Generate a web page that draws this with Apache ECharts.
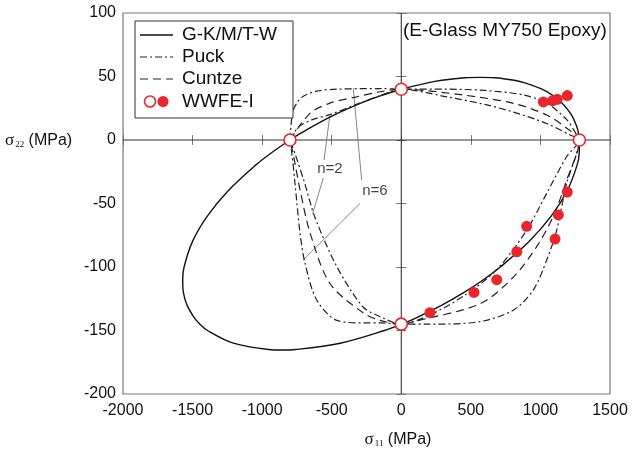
<!DOCTYPE html>
<html><head><meta charset="utf-8">
<script src="https://cdn.jsdelivr.net/npm/echarts@6/dist/echarts.min.js"></script>
<style>html,body{margin:0;padding:0;background:#fff}#c{width:633px;height:462px}</style>
</head><body><div id="c"></div><script>
// ---- data ----
const tsaiWu = [[1280,0],[1274,5],[1263,10],[1222,20],[1148,30],[1091,35],[1011,40],[889,45],[812,47],[673,49],[565,49.3],[458,49],[292,47],[189,45],[0,40],[-146,35],[-269,30],[-477,20],[-650,10],[-728,5],[-800,0],[-932,-10],[-1049,-20],[-1244,-40],[-1394,-60],[-1501,-80],[-1561,-100],[-1571,-110],[-1566,-120],[-1540,-130],[-1487,-140],[-1447,-145],[-1393,-150],[-1207,-160],[-953,-165],[-856,-165.4],[-760,-165],[-439,-160],[-121,-150],[0,-145],[107,-140],[292,-130],[451,-120],[590,-110],[712,-100],[918,-80],[1077,-60],[1192,-40],[1263,-20],[1279,-10],[1280,0]];
const puckN6 = [[-800,0],[-792,12],[-778,23],[-745,30],[-704,34.5],[-608,38.5],[-464,40],[-153,40.5],[0,40],[326,40],[600,39],[877,35.5],[1045,29],[1189,16],[1250,6],[1280,0],[1262,-10],[1189,-34],[1117,-71],[1045,-94.5],[949,-118],[805,-134],[565,-143],[200,-145],[0,-145],[-153,-144],[-275,-144],[-464,-142],[-608,-126],[-692,-97],[-728,-73],[-764,-34],[-785,-12],[-800,0]];
const puckN2 = [[-800,0],[-740,10],[-640,16],[-513,20],[-300,29],[-150,35],[0,40],[326,34],[600,28],[805,22],[1045,13],[1213,4],[1280,0],[1189,-13],[1045,-42],[901,-71],[686,-102],[446,-123],[200,-138],[0,-145],[-153,-139],[-275,-131.5],[-462,-100],[-620,-61],[-700,-32],[-760,-12],[-800,0]];
const cuntze = [[-800,0],[-656,21],[-513,29],[-321,34],[-150,38],[0,40],[446,35.4],[805,28.9],[1045,19.7],[1189,9.2],[1280,0],[1189,-31.5],[1093,-60],[973,-84],[805,-108],[566,-129],[88,-143],[0,-145],[-153,-142],[-275,-136],[-513,-113],[-656,-73],[-728,-39],[-770,-15],[-800,0]];
const wwfeFilled = [[1021,30],[1088,31],[1121,32],[1193,35],[1193,-41],[1129,-59],[901,-68],[1105,-78],[830,-88],[686,-110],[523,-120],[206,-136]];
const wwfeHollow = [[-800,0],[0,40],[1280,0],[0,-145]];
const n2Pointers = [[[-555,-15.7],[-513,19.7]],[[-561,-30],[-637,-58]]];
const n6Pointers = [[[-285,-31.5],[-345,40.7]],[[-297,-50],[-705,-94.5]]];
const annotLabels = [{text:'n=2', at:[-513,-23]},{text:'n=6', at:[-190,-40]}];
const xRange = [-2000,1500], xStep = 500;
const yRange = [-200,100], yStep = 50;
const legendNames = ['G-K/M/T-W','Puck','Cuntze','WWFE-I'];
const materialNote = '(E-Glass MY750 Epoxy)';
// ------------------------------------
const chart = echarts.init(document.getElementById('c'), null, {renderer:'canvas'});
const FONT = '"Liberation Sans", Arial, Helvetica, sans-serif';
const SERIF = '"Liberation Serif", "DejaVu Serif", serif';
const RED = '#e8262b';
const CURVE = '#222';
const axisBase = {
  type:'value', splitLine:{show:false},
  axisLine:{show:false},
  axisTick:{show:true, inside:true, length:5, lineStyle:{color:'#777', width:1}},
};
function pointerSeries(segs){
  return segs.map(s => ({type:'line', data:s, symbol:'none', silent:true, z:3,
    lineStyle:{color:'#777', width:0.9}}));
}
const plain = v => String(v);
const axisTitle = sub => ({
  text:'{s|σ}{sub|'+sub+'}{u| (MPa)}',
  rich:{s:{fontFamily:SERIF, fontSize:17, fill:'#111'},
        sub:{fontFamily:SERIF, fontSize:9, fill:'#111', padding:[8,0,0,1]},
        u:{fontFamily:FONT, fontSize:16, fill:'#111'}}
});
const option = {
  animation:false,
  grid:{left:123, right:23, top:13, bottom:68, show:true, borderColor:'#7a7a7a', borderWidth:1.2, backgroundColor:'transparent'},
  xAxis:[
    Object.assign({}, axisBase, {min:xRange[0], max:xRange[1], interval:xStep, position:'bottom',
      axisLabel:{fontFamily:FONT, fontSize:16, color:'#111', margin:9, formatter:plain}}),
    Object.assign({}, axisBase, {min:xRange[0], max:xRange[1], interval:xStep, position:'top', axisLabel:{show:false}})
  ],
  yAxis:[
    Object.assign({}, axisBase, {min:yRange[0], max:yRange[1], interval:yStep, position:'left',
      axisLabel:{fontFamily:FONT, fontSize:16, color:'#111', margin:7, formatter:plain}}),
    Object.assign({}, axisBase, {min:yRange[0], max:yRange[1], interval:yStep, position:'right', axisLabel:{show:false}})
  ],
  series:[
    {type:'line', data:[[xRange[0],0],[xRange[1],0]], symbol:'none', silent:true, lineStyle:{color:'#333', width:1.1}, z:1},
    {type:'line', data:[[0,yRange[0]],[0,yRange[1]]], symbol:'none', silent:true, lineStyle:{color:'#333', width:1.1}, z:1},
    {name:legendNames[0], type:'line', data:tsaiWu, symbol:'none', smooth:0.35, lineStyle:{color:'#111', width:1.4}, z:4},
    {name:legendNames[1], type:'line', data:puckN6, symbol:'none', smooth:0.3, lineStyle:{color:CURVE, width:1.2, type:[7,3,2,3]}, z:4},
    {name:legendNames[1], type:'line', data:puckN2, symbol:'none', smooth:0.3, lineStyle:{color:CURVE, width:1.2, type:[7,3,2,3]}, z:4},
    {name:legendNames[2], type:'line', data:cuntze, symbol:'none', smooth:0.3, lineStyle:{color:CURVE, width:1.2, type:[8,5]}, z:4},
    ...pointerSeries(n2Pointers),
    ...pointerSeries(n6Pointers),
    {type:'scatter', data:annotLabels.map(a=>({value:a.at, name:a.text})), symbolSize:0, z:6,
      label:{show:true, position:'inside', formatter:p=>p.name, fontFamily:FONT, fontSize:15, color:'#111'}},
    {name:legendNames[3], type:'scatter', data:wwfeFilled, symbol:'circle', symbolSize:11, itemStyle:{color:RED, opacity:1}, z:8},
    {name:legendNames[3], type:'scatter', data:wwfeHollow, symbol:'circle', symbolSize:12, itemStyle:{color:'#fff', borderColor:RED, borderWidth:1.6, opacity:1}, z:9}
  ],
  graphic:[
    {type:'rect', x:135, y:21, shape:{width:158, height:97}, style:{fill:'#fff', stroke:'#333', lineWidth:1}, z:20},
    {type:'line', shape:{x1:140,y1:35,x2:173,y2:35}, style:{stroke:'#111', lineWidth:1.4}, z:21},
    {type:'line', shape:{x1:140,y1:57,x2:173,y2:57}, style:{stroke:CURVE, lineWidth:1.2, lineDash:[7,3,2,3]}, z:21},
    {type:'line', shape:{x1:140,y1:79,x2:173,y2:79}, style:{stroke:CURVE, lineWidth:1.2, lineDash:[8,5]}, z:21},
    {type:'circle', shape:{cx:150, cy:101.5, r:5.5}, style:{fill:'#fff', stroke:RED, lineWidth:1.6}, z:21},
    {type:'circle', shape:{cx:163, cy:101.5, r:5.5}, style:{fill:RED}, z:21},
    {type:'text', x:182, y:35, style:{text:legendNames[0], font:'19px '+FONT, fill:'#111', verticalAlign:'middle'}, z:21},
    {type:'text', x:182, y:57, style:{text:legendNames[1], font:'19px '+FONT, fill:'#111', verticalAlign:'middle'}, z:21},
    {type:'text', x:182, y:79, style:{text:legendNames[2], font:'19px '+FONT, fill:'#111', verticalAlign:'middle'}, z:21},
    {type:'text', x:182, y:101.5, style:{text:legendNames[3], font:'19px '+FONT, fill:'#111', verticalAlign:'middle'}, z:21},
    {type:'text', x:403, y:31, style:{text:materialNote, font:'19px '+FONT, fill:'#111', verticalAlign:'middle'}, z:21},
    {type:'text', x:5, y:141, style:Object.assign({verticalAlign:'middle'}, axisTitle('22')), z:21},
    {type:'text', x:398, y:440, style:Object.assign({align:'center', verticalAlign:'middle'}, axisTitle('11')), z:21}
  ]
};
chart.setOption(option);
</script></body></html>
